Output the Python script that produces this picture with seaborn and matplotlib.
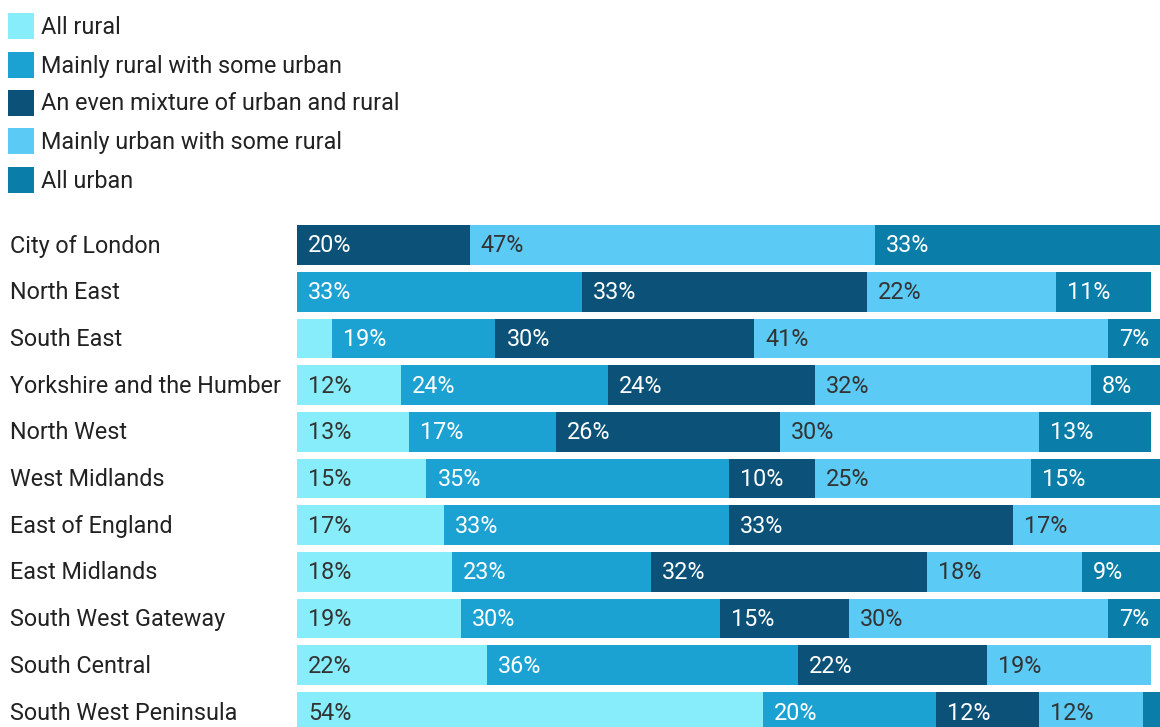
import matplotlib
matplotlib.use("Agg")
import matplotlib.pyplot as plt
from matplotlib.patches import Rectangle
import numpy as np
import pandas as pd
import seaborn as sns

regions = [
    "City of London", "North East", "South East", "Yorkshire and the Humber",
    "North West", "West Midlands", "East of England", "East Midlands",
    "South West Gateway", "South Central", "South West Peninsula",
]
series_names = [
    "All rural",
    "Mainly rural with some urban",
    "An even mixture of urban and rural",
    "Mainly urban with some rural",
    "All urban",
]
all_rural      = [0, 0, 4, 12, 13, 15, 17, 18, 19, 22, 54]
mainly_rural   = [0, 33, 19, 24, 17, 35, 33, 23, 30, 36, 20]
even_mixture   = [20, 33, 30, 24, 26, 10, 33, 32, 15, 22, 12]
mainly_urban   = [47, 22, 41, 32, 30, 25, 17, 18, 30, 19, 12]
all_urban      = [33, 11, 7, 8, 13, 15, 0, 9, 7, 0, 2]

colors = ["#88EDFB", "#1CA2D2", "#0B5178", "#5BCAF5", "#0A7DA8"]
label_colors = ["#333333", "#FFFFFF", "#FFFFFF", "#333333", "#FFFFFF"]

series = [all_rural, mainly_rural, even_mixture, mainly_urban, all_urban]
values = np.array(series, dtype=float)          # shape (5, 11)
cumulative = np.cumsum(values, axis=0)
lefts = cumulative - values

sns.set_theme(style="white")
plt.rcParams["font.family"] = ["Roboto", "DejaVu Sans"]

W, H = 1160, 727
fig = plt.figure(figsize=(W / 100, H / 100), dpi=100)
ax_left, ax_top = 297, 200
ax = fig.add_axes([ax_left / W, 0, (W - ax_left) / W, (H - ax_top) / H])

# Stacked bars: draw cumulative totals from the outermost segment inward
for k in range(len(series) - 1, -1, -1):
    df = pd.DataFrame({"region": regions, "total": cumulative[k]})
    sns.barplot(data=df, x="total", y="region", orient="h", color=colors[k],
                saturation=1, width=0.85, ax=ax, linewidth=0)

# Percent labels inside segments
for k in range(len(series)):
    for i, region in enumerate(regions):
        v = values[k, i]
        if v >= 5:
            ax.annotate(f"{int(v)}%", xy=(lefts[k, i], i), xytext=(11, -1),
                        textcoords="offset pixels", va="center", ha="left",
                        fontsize=16.8, color=label_colors[k], clip_on=True)

spacing = 46.7
ax.set_xlim(0, 100)
ax.set_ylim((H - 245) / spacing, -(245 - ax_top) / spacing)
ax.set_xlabel("")
ax.set_ylabel("")
ax.set_xticks([])
ax.set_yticks([])
sns.despine(ax=ax, left=True, bottom=True)

# Region names on the left
for i, region in enumerate(regions):
    y_px = 246 + spacing * i
    fig.text(10 / W, 1 - y_px / H, region, ha="left", va="center",
             fontsize=16.8, color="#222222")

# Legend
legend_rows = [26, 65, 103, 141, 180]
for name, col, y_px in zip(series_names, colors, legend_rows):
    fig.add_artist(Rectangle((8 / W, 1 - (y_px + 13) / H), 26 / W, 26 / H,
                             transform=fig.transFigure, facecolor=col,
                             edgecolor="none"))
    fig.text(41 / W, 1 - (y_px + 1) / H, name, ha="left", va="center",
             fontsize=16.8, color="#222222")

fig.savefig("out.png", dpi=100)
